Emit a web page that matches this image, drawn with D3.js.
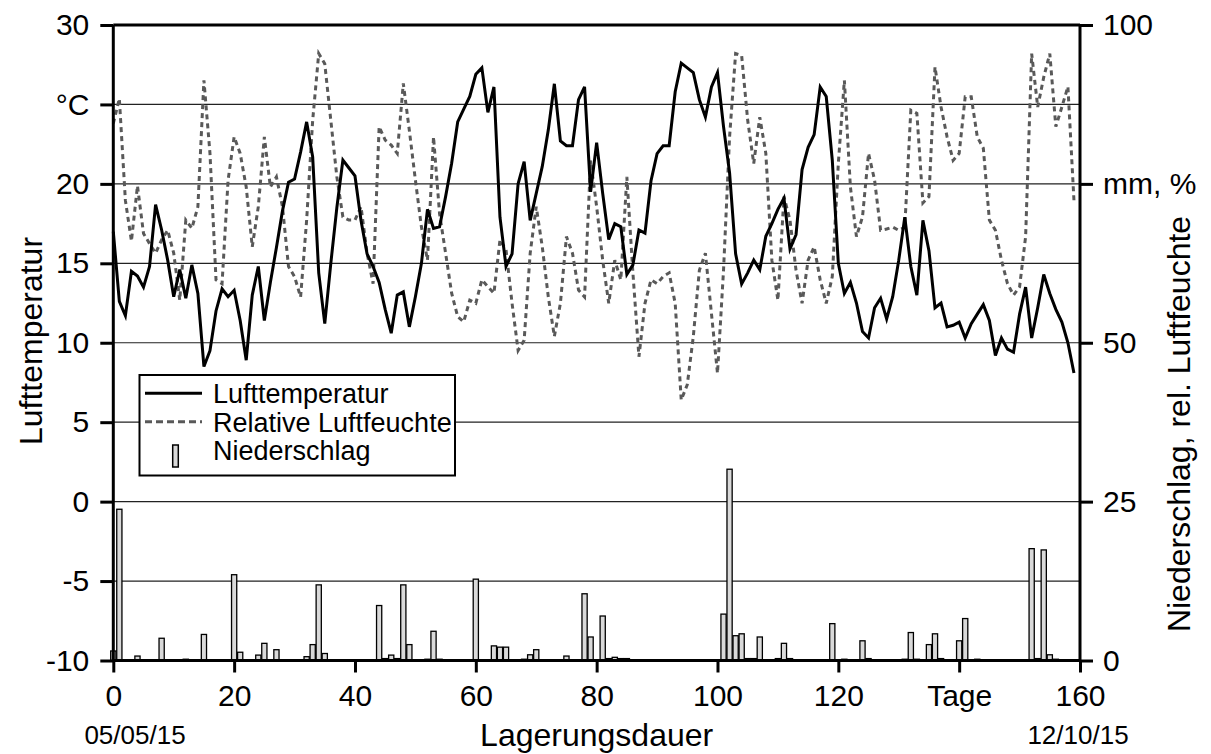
<!DOCTYPE html>
<html lang="de">
<head>
<meta charset="UTF-8">
<title>Lagerungsdauer</title>
<script src="https://cdn.jsdelivr.net/npm/d3@7"></script>
<style>
  body { margin: 0; background: #fff; }
  svg { display: block; font-family: "Liberation Sans", Arial, sans-serif; }
</style>
</head>
<body>
<svg id="chart" width="1211" height="754"></svg>
<script>
// Lufttemperatur in °C, Tag 0..159
const temperature = [
  17.0, 12.6, 11.7, 14.5, 14.2, 13.5, 14.8, 18.7, 17.1, 15.2,
  12.9, 14.6, 12.8, 14.9, 13.1, 8.5, 9.5, 12.0, 13.4, 12.9,
  13.3, 11.4, 8.9, 13.0, 14.8, 11.4, 13.8, 16.0, 18.3, 20.1,
  20.3, 22.0, 23.9, 21.7, 14.4, 11.2, 15.0, 18.5, 21.5, 21.0,
  20.5, 17.7, 15.6, 14.8, 13.8, 12.1, 10.6, 13.0, 13.2, 11.0,
  12.9, 15.0, 18.4, 17.2, 17.3, 19.2, 21.3, 23.9, 24.7, 25.5,
  26.9, 27.3, 24.5, 26.1, 17.9, 14.8, 15.6, 20.0, 21.4, 17.7,
  19.4, 21.1, 23.4, 26.3, 22.7, 22.4, 22.4, 25.3, 26.1, 19.5,
  22.6, 19.4, 16.5, 17.5, 17.3, 14.3, 14.9, 17.1, 16.9, 20.2,
  21.9, 22.4, 22.4, 25.8, 27.6, 27.3, 27.0, 25.3, 24.2, 26.1,
  27.0, 23.6, 20.7, 15.6, 13.7, 14.4, 15.2, 14.6, 16.7, 17.5,
  18.4, 19.1, 15.9, 16.8, 20.9, 22.3, 23.1, 26.1, 25.5, 21.5,
  15.0, 13.1, 13.8, 12.5, 10.7, 10.3, 12.2, 12.8, 11.5, 12.9,
  15.2, 17.9, 14.8, 13.0, 17.7, 15.8, 12.2, 12.5, 11.0, 11.1,
  11.3, 10.3, 11.2, 11.8, 12.4, 11.4, 9.2, 10.3, 9.6, 9.4,
  11.8, 13.5, 10.3, 12.2, 14.3, 13.1, 12.1, 11.3, 10.0, 8.1
];

// relative Luftfeuchte in %, Tag 0..159
const humidity = [
  84.5, 88.4, 72.4, 66.0, 74.7, 67.2, 65.6, 64.1, 66.2, 67.7,
  64.1, 56.7, 69.3, 68.0, 71.4, 91.3, 79.8, 59.9, 59.3, 75.6,
  82.4, 79.8, 74.5, 65.1, 71.4, 82.4, 74.5, 76.1, 71.4, 62.0,
  60.4, 57.2, 69.3, 85.0, 95.5, 93.9, 85.0, 76.1, 69.8, 69.3,
  69.3, 71.4, 64.1, 59.3, 84.0, 81.9, 81.1, 79.8, 90.8, 83.4,
  75.6, 68.2, 63.0, 82.4, 70.3, 64.1, 57.8, 54.1, 53.3, 56.7,
  56.2, 59.9, 58.8, 57.8, 66.2, 64.6, 56.2, 48.8, 50.4, 64.1,
  71.4, 65.1, 57.2, 51.0, 56.2, 66.7, 64.1, 58.3, 57.2, 78.7,
  71.4, 63.0, 56.2, 63.0, 59.9, 76.1, 61.0, 47.8, 56.2, 59.9,
  59.3, 60.4, 61.0, 56.2, 41.0, 43.4, 51.0, 61.4, 64.1, 54.6,
  45.2, 61.4, 82.4, 95.5, 95.2, 85.0, 78.2, 85.5, 79.8, 63.0,
  56.7, 73.0, 69.3, 61.4, 56.2, 63.0, 65.1, 59.9, 56.2, 60.4,
  78.2, 91.3, 74.5, 66.7, 69.8, 79.8, 75.6, 67.7, 67.9, 68.2,
  67.7, 68.2, 86.6, 86.1, 72.0, 73.0, 93.4, 87.1, 82.4, 78.7,
  79.8, 88.7, 88.7, 82.4, 80.6, 69.3, 67.7, 63.0, 59.3, 57.5,
  58.8, 66.7, 95.5, 87.1, 91.8, 95.5, 84.0, 87.1, 90.3, 72.4
];

// Niederschlag in mm (nur Tage mit Niederschlag)
const rainDays = [
  0, 1, 4, 8, 12, 15, 20, 21, 24, 25, 27, 32, 33, 34, 35,
  44, 45, 46, 47, 48, 49, 52, 53, 54, 60, 63, 64, 65, 68, 69, 70,
  75, 78, 79, 81, 82, 83, 84, 85, 101, 102, 103, 104, 105, 106, 107,
  110, 111, 112, 119, 121, 124, 125, 131, 132, 133, 135, 136, 137,
  140, 141, 143, 152, 153, 154, 155, 156
];
const rainMm = [
  1.5, 23.8, 0.7, 3.5, 0.2, 4.1, 13.5, 1.3, 0.85, 2.7, 1.7, 0.6, 2.5, 11.9, 1.1,
  8.65, 0.3, 0.85, 0.3, 11.9, 2.5, 0.2, 4.6, 0.2, 12.8, 2.3, 2.1, 2.1, 0.2, 0.9, 1.7,
  0.7, 10.5, 3.7, 7.0, 0.3, 0.5, 0.3, 0.3, 7.3, 30.1, 3.9, 4.2, 0.3, 0.3, 3.7,
  0.3, 2.7, 0.3, 5.8, 0.2, 3.1, 0.3, 0.2, 4.4, 0.2, 2.5, 4.2, 0.3,
  3.1, 6.6, 0.2, 17.6, 0.3, 17.4, 0.9, 0.2
];

const leftTicks = [-10, -5, 0, 5, 10, 15, 20, 25, 30];
const rightTicks = [0, 25, 50, 75, 100];
const dayTicks = [0, 20, 40, 60, 80, 100, 120, 140, 160];

const svg = d3.select("#chart");
const pLeft = 113.3, pRight = 1080, pTop = 25, pBottom = 660.5;

let x = d3.scaleLinear().domain([0, 160]).range([pLeft, pRight]);
let yT = d3.scaleLinear().domain([-10, 30]).range([pBottom, pTop]);
let yR = d3.scaleLinear().domain([0, 100]).range([pBottom, pTop]);

// gridlines
svg.append("g").selectAll("line")
  .data(leftTicks.filter(d => d > -10 && d < 30))
  .enter().append("line")
  .attr("x1", pLeft).attr("x2", pRight)
  .attr("y1", d => yT(d)).attr("y2", d => yT(d))
  .attr("stroke", "#222").attr("stroke-width", 1.2);

// Niederschlag bars
let rain = rainDays.map((d, i) => ({ day: d, mm: rainMm[i] }));
svg.append("g").selectAll("rect")
  .data(rain)
  .enter().append("rect")
  .attr("x", d => x(d.day) - 2.6)
  .attr("width", 5.2)
  .attr("y", d => yR(d.mm))
  .attr("height", d => pBottom - yR(d.mm))
  .attr("fill", "#d9d9d9")
  .attr("stroke", "#000")
  .attr("stroke-width", 1.3);

// relative Luftfeuchte (dashed)
let humLine = d3.line().x((d, i) => x(i)).y(d => yR(d));
svg.append("path")
  .attr("d", humLine(humidity))
  .attr("fill", "none")
  .attr("stroke", "#595959")
  .attr("stroke-width", 3)
  .attr("stroke-dasharray", "5,4");

// Lufttemperatur (solid)
let tempLine = d3.line().x((d, i) => x(i)).y(d => yT(d));
svg.append("path")
  .attr("d", tempLine(temperature))
  .attr("fill", "none")
  .attr("stroke", "#000")
  .attr("stroke-width", 3);

// axes
let axisL = d3.axisLeft(yT).tickValues(leftTicks)
  .tickFormat(d => d === 25 ? "°C" : d).tickSize(13).tickPadding(11);
let axisR = d3.axisRight(yR).tickValues(rightTicks)
  .tickFormat(d => d === 75 ? "mm, %" : d).tickSize(13).tickPadding(10);
let axisB = d3.axisBottom(x).tickValues(dayTicks)
  .tickFormat(d => d === 140 ? "Tage" : d).tickSize(12).tickPadding(12);

function styleAxis(g) {
  g.select(".domain").attr("stroke-width", 3).attr("stroke", "#000");
  g.selectAll(".tick line").attr("stroke-width", 3).attr("stroke", "#000");
  g.selectAll(".tick text").attr("font-size", 30).attr("fill", "#000")
    .style("font-family", '"Liberation Sans", Arial, sans-serif');
}

svg.append("g").attr("transform", `translate(${pLeft},0)`).call(axisL).call(styleAxis)
  .select(".domain").attr("d", `M0,${pTop}V${pBottom}`);
svg.append("g").attr("transform", `translate(${pRight},0)`).call(axisR).call(styleAxis)
  .select(".domain").attr("d", `M0,${pTop}V${pBottom}`);
svg.append("g").attr("transform", `translate(0,${pBottom})`).call(axisB).call(styleAxis)
  .select(".domain").attr("d", `M${pLeft},0H${pRight}`);

// top border
svg.append("line")
  .attr("x1", pLeft).attr("x2", pRight).attr("y1", pTop).attr("y2", pTop)
  .attr("stroke", "#000").attr("stroke-width", 3);

// titles
svg.append("text")
  .attr("transform", "translate(31,341) rotate(-90)")
  .attr("text-anchor", "middle").attr("dominant-baseline", "central")
  .attr("font-size", 32).text("Lufttemperatur");
svg.append("text")
  .attr("transform", "translate(1179,424) rotate(-90)")
  .attr("text-anchor", "middle").attr("dominant-baseline", "central")
  .attr("font-size", 32).text("Niederschlag, rel. Luftfeuchte");
svg.append("text")
  .attr("x", (pLeft + pRight) / 2).attr("y", 746)
  .attr("text-anchor", "middle").attr("font-size", 32).text("Lagerungsdauer");
svg.append("text")
  .attr("x", 135).attr("y", 744)
  .attr("text-anchor", "middle").attr("font-size", 26).text("05/05/15");
svg.append("text")
  .attr("x", 1078).attr("y", 744)
  .attr("text-anchor", "middle").attr("font-size", 26).text("12/10/15");

// legend
let legend = svg.append("g");
legend.append("rect")
  .attr("x", 139.5).attr("y", 375).attr("width", 315.5).attr("height", 100.5)
  .attr("fill", "#fff").attr("stroke", "#000").attr("stroke-width", 2);
legend.append("line")
  .attr("x1", 145).attr("x2", 202).attr("y1", 393.3).attr("y2", 393.3)
  .attr("stroke", "#000").attr("stroke-width", 3);
legend.append("line")
  .attr("x1", 145).attr("x2", 202).attr("y1", 421.7).attr("y2", 421.7)
  .attr("stroke", "#595959").attr("stroke-width", 3).attr("stroke-dasharray", "7,4");
legend.append("rect")
  .attr("x", 172.7).attr("y", 445).attr("width", 5.6).attr("height", 22)
  .attr("fill", "#d9d9d9").attr("stroke", "#000").attr("stroke-width", 1.5);
let legendText = ["Lufttemperatur", "Relative Luftfeuchte", "Niederschlag"];
legend.selectAll(".lt")
  .data(legendText)
  .enter().append("text")
  .attr("class", "lt")
  .attr("x", 213)
  .attr("y", (d, i) => 403 + i * 28.7)
  .attr("font-size", 27)
  .text(d => d);
</script>
</body>
</html>
